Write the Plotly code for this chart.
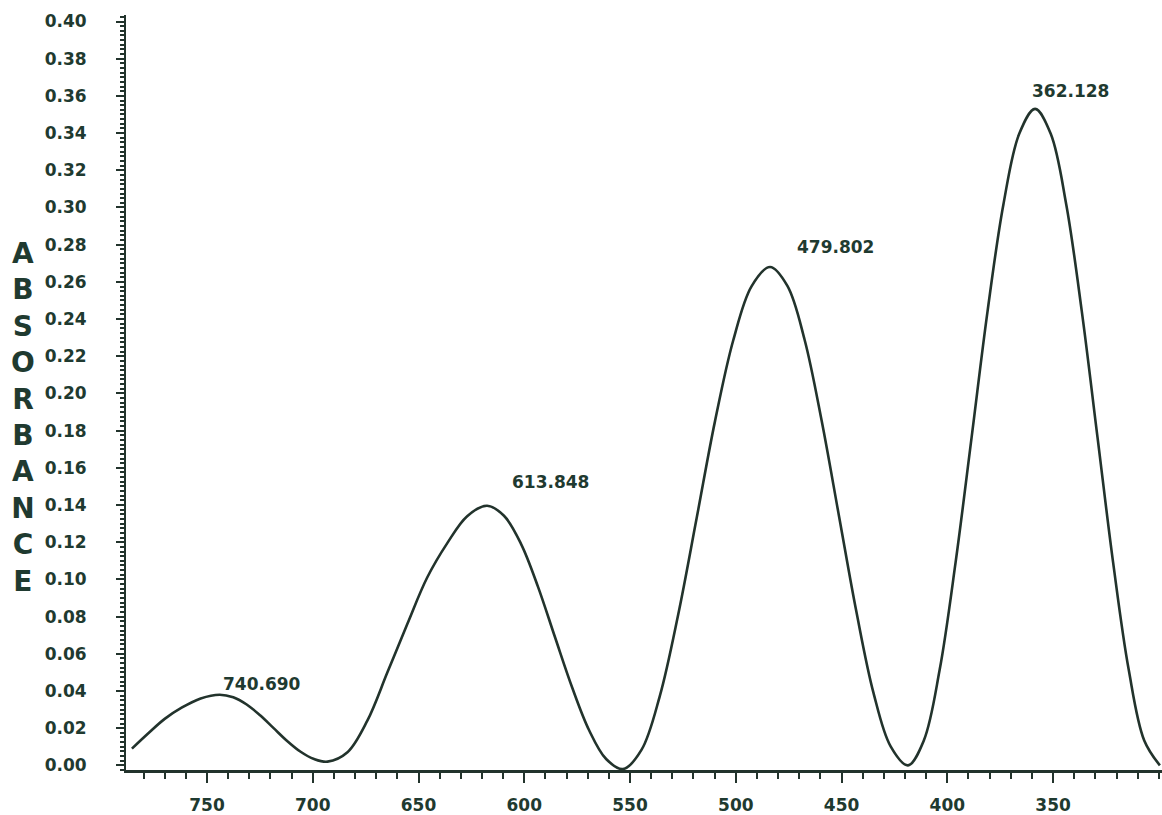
import plotly.graph_objects as go

# Spectrum (wavelength nm, absorbance)
wavelength = [785.5, 778, 770, 762, 753, 744,
              737.6, 731.25, 724.9, 718.5, 712.1, 705.75, 699.4, 693,
              683.6, 674.2, 664.7, 655.3, 645.9, 636.4, 627.0, 617.6,
              609.6, 601.5, 593.5, 585.5, 577.4, 569.4, 561.3, 553.3,
              544.6, 535.9, 527.2, 518.5, 509.9, 501.2, 492.5, 483.8,
              475.6, 467.5, 459.4, 451.2, 443.0, 434.9, 426.8, 418.6,
              411.1, 403.6, 396.1, 388.5, 381.0, 373.5, 366.0, 358.5,
              351.1, 343.75, 336.4, 329.0, 321.6, 314.25, 306.9, 299.5]
absorbance = [0.009, 0.017, 0.025, 0.031, 0.036, 0.038,
              0.0366, 0.0327, 0.0269, 0.020, 0.0131, 0.0073, 0.0034, 0.002,
              0.007, 0.024, 0.050, 0.076, 0.101, 0.1195, 0.134, 0.1396,
              0.1342, 0.119, 0.096, 0.069, 0.042, 0.019, 0.0034, -0.002,
              0.0083, 0.0374, 0.0813, 0.133, 0.1847, 0.2286, 0.2577, 0.268,
              0.2578, 0.229, 0.1853, 0.134, 0.0827, 0.039, 0.0102, 0.000,
              0.0134, 0.0515, 0.109, 0.1765, 0.244, 0.3015, 0.3396, 0.353,
              0.3396, 0.3015, 0.244, 0.1765, 0.109, 0.0515, 0.0134, 0.000]

peak_wavelength = [744, 617.6, 483.8, 358.5]
peak_absorbance = [0.038, 0.1396, 0.268, 0.353]
peak_labels = ["740.690", "613.848", "479.802", "362.128"]

y_ticks = [i * 0.02 for i in range(21)]
x_ticks = [750, 700, 650, 600, 550, 500, 450, 400, 350]
title_letters = list("ABSORBANCE")

ink = "#1f3a30"
line_ink = "#22332c"
font_family = "DejaVu Sans"

FIG_W, FIG_H = 1162, 815
M_L, M_T, M_B, M_R = 126, 15, 41, 0
plot_w = FIG_W - M_L - M_R
plot_h = FIG_H - M_T - M_B

fig = go.Figure()
fig.add_trace(go.Scatter(
    x=wavelength, y=absorbance, mode="lines",
    line=dict(color=line_ink, width=2.6, shape="spline", smoothing=1.0),
    hoverinfo="skip", showlegend=False,
))

label_offsets = [(42, 11), (63, 24), (65, 20), (35, 18)]
for px, py, txt, (dx, dy) in zip(peak_wavelength, peak_absorbance, peak_labels, label_offsets):
    fig.add_annotation(
        x=px, y=py, text=f"<b>{txt}</b>", showarrow=False,
        xshift=dx, yshift=dy, yanchor="middle", xanchor="center",
        font=dict(family=font_family, size=17, color=ink),
    )

# Stacked vertical axis title (centre at page x=23, y=420)
fig.add_annotation(
    xref="paper", yref="paper",
    x=(23 - M_L) / plot_w, y=(FIG_H - M_B - 420) / plot_h,
    xanchor="center", yanchor="middle",
    text="<br>".join(f"<b>{c}</b>" for c in title_letters),
    showarrow=False, font=dict(family=font_family, size=28, color=ink),
)

fig.update_layout(
    width=FIG_W, height=FIG_H,
    margin=dict(l=M_L, r=M_R, t=M_T, b=M_B),
    paper_bgcolor="white", plot_bgcolor="white",
    font=dict(family=font_family, color=ink),
)

fig.update_xaxes(
    range=[788.3, 298.5],
    tickvals=x_ticks, ticktext=[str(v) for v in x_ticks],
    ticks="outside", ticklen=10, tickwidth=2, tickcolor=line_ink,
    tickfont=dict(family=font_family, size=17, color=ink, weight="bold"),
    showline=True, linecolor=line_ink, linewidth=2.5,
    showgrid=False, zeroline=False,
    minor=dict(dtick=10, tick0=0, ticks="outside", ticklen=6, tickwidth=2, tickcolor=line_ink, showgrid=False),
    ticklabelstandoff=8,
)
fig.update_yaxes(
    range=[-0.0025, 0.4035],
    tickvals=y_ticks, ticktext=[f"{v:.2f}" for v in y_ticks],
    ticks="outside", ticklen=8, tickwidth=2, tickcolor=line_ink,
    tickfont=dict(family=font_family, size=17, color=ink, weight="bold"),
    showline=True, linecolor=line_ink, linewidth=2,
    showgrid=False, zeroline=False,
    minor=dict(dtick=0.0025, tick0=0, ticks="outside", ticklen=4, tickwidth=1.5, tickcolor=line_ink, showgrid=False),
    ticklabelstandoff=26,
)

fig.write_html(
    "out.html",
    config={"displayModeBar": False},
    post_script="document.body.style.margin='0';document.body.style.overflow='hidden';",
)
